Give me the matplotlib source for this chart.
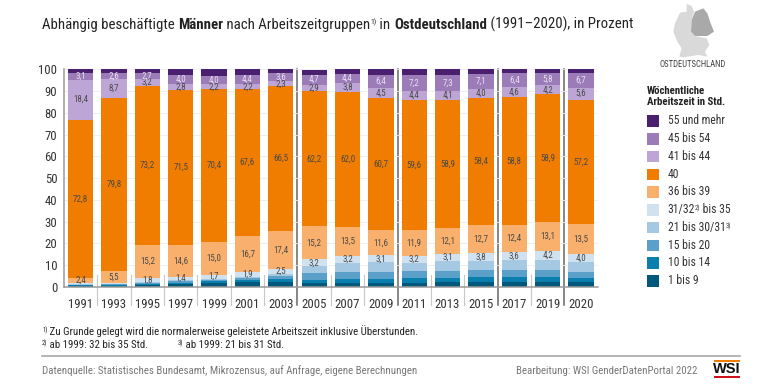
import matplotlib
matplotlib.use("Agg")
import matplotlib.pyplot as plt
from matplotlib.patches import Polygon, Rectangle

FONT = "Roboto Condensed"
plt.rcParams["font.family"] = [FONT, "DejaVu Sans"]

years = ["1991","1993","1995","1997","1999","2001","2003","2005","2007","2009","2011","2013","2015","2017","2019","2020"]
legend_labels = ["1 bis 9","10 bis 14","15 bis 20","21 bis 30/31","31/32 bis 35","36 bis 39","40","41 bis 44","45 bis 54","55 und mehr"]
h1_9   = [0.4,0.4,0.8,1.2,1.6,2.0,2.4,1.6,1.8,1.8,1.9,2.0,2.2,2.4,2.1,2.0]
h10_14 = [0.3,0.3,0.5,0.7,0.9,1.1,1.3,1.6,1.9,1.9,2.0,2.1,2.2,2.3,2.4,1.9]
h15_20 = [0.3,0.4,0.5,0.6,0.7,0.9,1.2,3.2,3.2,3.3,3.4,3.3,3.3,3.1,3.3,3.0]
h21_30 = [0.3,0.3,0.4,0.6,0.6,0.7,0.9,3.0,4.1,4.3,3.8,4.5,4.2,4.6,4.5,4.4]
h31_35 = [0.4,0.2,1.8,1.4,1.7,1.9,2.5,3.2,3.2,3.1,3.2,3.1,3.8,3.6,4.2,4.0]
h36_39 = [2.4,5.5,15.2,14.6,15.0,16.7,17.4,15.2,13.5,11.6,11.9,12.1,12.7,12.4,13.1,13.5]
h40    = [72.8,79.8,73.2,71.5,70.4,67.6,66.5,62.2,62.0,60.7,59.6,58.9,58.4,58.8,58.9,57.2]
h41_44 = [18.4,8.7,3.2,2.8,2.2,2.2,2.3,2.9,3.8,4.5,4.4,4.1,4.0,4.6,4.2,5.6]
h45_54 = [3.1,2.6,2.7,4.0,4.0,4.4,3.6,4.7,4.4,6.4,7.2,7.3,7.1,6.4,5.8,6.7]
h55    = [1.6,1.8,1.9,2.6,2.9,2.5,1.9,2.3,2.1,2.4,2.6,2.6,2.1,1.8,1.5,1.7]
series = [h1_9,h10_14,h15_20,h21_30,h31_35,h36_39,h40,h41_44,h45_54,h55]
colors = ["#00587c","#0a7fae","#5aa0c8","#a5c9e2","#d0e1f0","#f9b06c","#f07c00","#bda6d5","#9c7bb9","#4b1f6f"]
labelled = [4,5,6,7,8]
major_breaks = [6.5,9.5,12.5,14.5]   # between 2003/05, 2009/11, 2015/17, 2019/20

W,H = 767,385
fig = plt.figure(figsize=(W/100,H/100),dpi=100,facecolor="white")
bg = fig.add_axes([0,0,1,1]); bg.set_xlim(0,W); bg.set_ylim(H,0); bg.axis("off")

left,right,top,bottom = 64.3,597.7,69.3,286.8
pitch=33.35
ax = fig.add_axes([left/W,1-bottom/H,(right-left)/W,(bottom-top)/H],facecolor="none")
ax.set_xlim((left-80.7)/pitch,(right-80.7)/pitch)
ax.set_yticks(range(0,101,10))
ax.tick_params(axis="y",length=0,pad=5,labelsize=9.2,colors="#333333")
ax.tick_params(axis="x",length=0,pad=8,labelsize=9.2,colors="#333333")
ax.set_xticks(range(len(years))); ax.set_xticklabels(years)
ax.grid(axis="y",color="#ececec",lw=0.6); ax.set_axisbelow(True)
for s in ["top","right"]: ax.spines[s].set_visible(False)
ax.spines["left"].set_color("#9a9a9a"); ax.spines["left"].set_linewidth(1.1)
ax.spines["bottom"].set_color("#9a9a9a"); ax.spines["bottom"].set_linewidth(1.1)

base=[0.0]*len(years)
for i,(vals,c) in enumerate(zip(series,colors)):
    ax.bar(range(len(years)),vals,bottom=base,width=25.3/pitch,color=c,linewidth=0,zorder=2,label=legend_labels[i])
    if i in labelled:
        tc = "#e8e0ef" if i==8 else "#4a4a4a"
        for j,v in enumerate(vals):
            if v>=1:
                ax.text(j,base[j]+v/2,f"{v:.1f}".replace(".",","),ha="center",va="center",fontsize=6.5,color=tc,zorder=3)
    base=[b+v for b,v in zip(base,vals)]
ax.set_ylim(0,100)

for k in range(len(years)-1):
    xb=k+0.5
    px=80.7+xb*pitch
    if xb in major_breaks:
        bg.plot([px,px],[top,305],color="#666666",lw=1.1,zorder=5)
    else:
        bg.plot([px,px],[275,305],color="#c8c8c8",lw=0.8,zorder=5)

def runs(x,y,parts,color="#222222",size=12.5):
    r=fig.canvas.get_renderer()
    for s,w,sz,dy in parts:
        t=bg.text(x,y+dy,s,fontsize=sz if sz else size,fontweight=w,color=color,va="baseline",ha="left")
        x=t.get_window_extent(r).x1
    return x

runs(42,29,[("Abhängig beschäftigte ","normal",0,0),("Männer","bold",0,0),(" nach Arbeitszeitgruppen","normal",0,0),
            ("1)","normal",5.6,-4.5),(" in ","normal",0,0),("Ostdeutschland","bold",0,0),(" (1991–2020), in Prozent","normal",0,0)],size=10.7)

z=lambda pts:[(620+a/3,b/3) for a,b in pts]
bg.add_patch(Polygon(z([(200,12),(215,18),(222,35),(215,60),(213,95),(225,108),(260,115),(268,135),(255,155),(262,170),(235,165),(190,172),(178,170),(185,145),(172,125),(160,95),(165,70),(180,38),(200,35)]),fc="#d9d9d9",ec="none"))
bg.add_patch(Polygon(z([(225,35),(250,25),(262,40),(272,70),(282,95),(262,108),(225,108),(213,95),(215,60)]),fc="#a9a9a9",ec="none"))
bg.text(693,64.5,"OSTDEUTSCHLAND",ha="center",va="center",fontsize=6.2,color="#444444")

bg.text(647,91,"Wöchentliche",fontsize=7.8,fontweight="bold",color="#222222",va="center")
bg.text(647,102,"Arbeitszeit in Std.",fontsize=7.8,fontweight="bold",color="#222222",va="center")
for n,i in enumerate(range(9,-1,-1)):
    yc=121+n*17.78
    bg.add_patch(Rectangle((647,yc-5.8),11.8,11.6,fc=colors[i],ec="none"))
    if i==4:
        runs(667.7,yc+3.2,[("31/32","normal",0,0),("2)","normal",4.8,-3),(" bis 35","normal",0,0)],color="#333333",size=8.4)
    elif i==3:
        runs(667.7,yc+3.2,[("21 bis 30/31","normal",0,0),("3)","normal",4.8,-3)],color="#333333",size=8.4)
    else:
        bg.text(667.7,yc+3.2,legend_labels[i],fontsize=8.4,color="#333333",va="baseline")

runs(42,335,[("1)","normal",4.8,-3),(" Zu Grunde gelegt wird die normalerweise geleistete Arbeitszeit inklusive Überstunden.","normal",0,0)],size=7.85)
runs(42,348,[("2)","normal",4.8,-3),(" ab 1999: 32 bis 35 Std.","normal",0,0)],size=7.85)
runs(178,348,[("3)","normal",4.8,-3),(" ab 1999: 21 bis 31 Std.","normal",0,0)],size=7.85)
bg.plot([42,740],[355.7,355.7],color="#a8a8a8",lw=1.2)
bg.text(42,373.5,"Datenquelle: Statistisches Bundesamt, Mikrozensus, auf Anfrage, eigene Berechnungen",fontsize=7.8,color="#777777",va="baseline")
bg.text(697,373.5,"Bearbeitung: WSI GenderDatenPortal 2022",fontsize=7.8,color="#777777",va="baseline",ha="right")

bg.add_patch(Rectangle((714,360),26,1.6,fc="#f07c00",ec="none"))
bg.add_patch(Rectangle((714,376),26,1.8,fc="#d0111b",ec="none"))
bg.text(727,369,"WSI",fontsize=10.5,fontweight="bold",color="#111111",ha="center",va="center",family="Liberation Sans")

fig.savefig("out.png",dpi=100,facecolor="white")
